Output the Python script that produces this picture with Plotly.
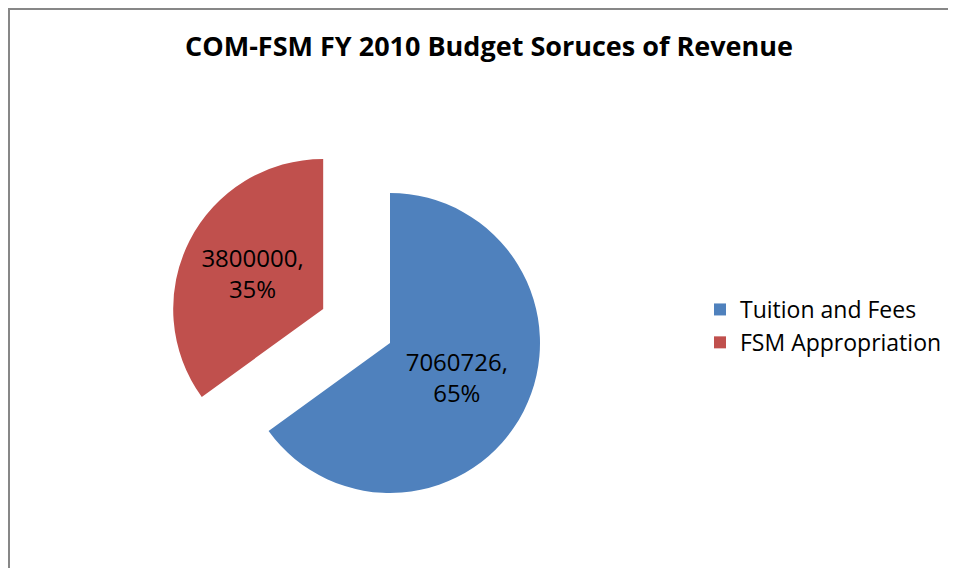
import plotly.graph_objects as go

# Budget revenue sources, FY 2010
labels = ["Tuition and Fees", "FSM Appropriation"]
values = [7060726, 3800000]
pulls = [0, 0.5]
colors = ["#4F81BD", "#C0504D"]

# the page body has an 8px margin, so the figure is 16px smaller than the window
W, H = 940, 560

fig = go.Figure(
    go.Pie(
        labels=labels,
        values=values,
        pull=pulls,
        sort=False,
        direction="clockwise",
        rotation=0,
        marker=dict(colors=colors, line=dict(width=0)),
        texttemplate="%{value:.0f},<br>%{percent:.0%}",
        textposition="inside",
        insidetextorientation="horizontal",
        textfont=dict(family="Open Sans", size=24, color="black"),
        hoverinfo="label+value+percent",
        domain=dict(x=[157 / W, 607 / W], y=[0, 450 / H]),
    )
)

fig.update_layout(
    width=W,
    height=H,
    margin=dict(l=0, r=0, t=0, b=0),
    paper_bgcolor="white",
    plot_bgcolor="white",
    title=dict(
        text="<b>COM-FSM FY 2010 Budget Soruces of Revenue</b>",
        x=481 / W,
        xanchor="center",
        y=1 - 39 / H,
        yanchor="middle",
        font=dict(family="Open Sans", size=27, color="black"),
    ),
    legend=dict(
        x=692 / W,
        xanchor="left",
        y=1 - 318 / H,
        yanchor="middle",
        font=dict(family="Open Sans", size=23, color="black"),
        bgcolor="rgba(0,0,0,0)",
    ),
    # chart frame: only the left and top edges show in the original
    shapes=[
        dict(type="line", xref="paper", yref="paper",
             x0=1 / W, x1=1 / W, y0=0, y1=1 - 1 / H,
             line=dict(color="#878787", width=2)),
        dict(type="line", xref="paper", yref="paper",
             x0=0, x1=1, y0=1 - 1 / H, y1=1 - 1 / H,
             line=dict(color="#878787", width=2)),
    ],
)

fig.write_html("out.html")
